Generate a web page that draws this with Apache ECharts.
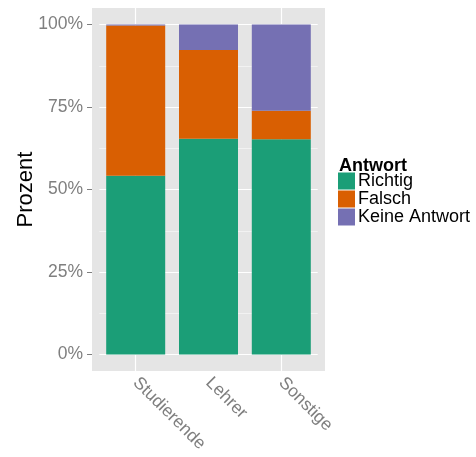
<!DOCTYPE html>
<html>
<head>
<meta charset="utf-8">
<script src="https://cdn.jsdelivr.net/npm/echarts@6/dist/echarts.min.js"></script>
<style>
  html, body { margin: 0; padding: 0; background: #fff; }
  #chart { width: 476px; height: 457px; }
</style>
</head>
<body>
<div id="chart"></div>
<script>
// data (percent per group)
const categories = ['Studierende', 'Lehrer', 'Sonstige'];
const richtig = [54.2, 65.4, 65.2];
const falsch = [45.5, 26.9, 8.7];
const keineAntwort = [0.3, 7.7, 26.1];
const yMax = 100;
const yStep = 25;       // labelled ticks
const yMinorStep = 12.5; // grid lines incl. minor ones

const colors = ['#1B9E77', '#D95F02', '#7570B3'];
const font = 'Liberation Sans';
const grey = '#7F7F7F';

function barSeries(name, vals, color) {
    return {
        name: name,
        type: 'bar',
        stack: 'total',
        data: vals,
        barWidth: 59,
        itemStyle: { color: color },
        z: 2,
        animation: false
    };
}

let myChart = echarts.init(document.getElementById('chart'));
myChart.setOption({
    animation: false,
    textStyle: { fontFamily: font },
    grid: [
        // bars + horizontal grid lines (0..100 range)
        { left: 99.3, top: 24.5, width: 218.4, height: 330 },
        // vertical grid lines through the category centres, full panel height
        { left: 135.7, top: 8, width: 145.6, height: 363 },
        // grey panel
        { left: 92, top: 8, width: 233, height: 363, show: true,
          backgroundColor: '#E5E5E5', borderWidth: 0, z: -1 }
    ],
    title: {
        text: 'Antwort',
        left: 334, top: 152,
        textStyle: { fontFamily: font, fontSize: 18, fontWeight: 'bold', color: '#000' }
    },
    legend: {
        data: ['Richtig', 'Falsch', 'Keine Antwort'],
        orient: 'vertical',
        left: 338, top: 172,
        padding: 0,
        itemGap: 0,
        itemWidth: 17,
        itemHeight: 17,
        icon: 'rect',
        textStyle: { fontFamily: font, fontSize: 18, color: '#000', lineHeight: 17, padding: [0, 0, 0, -2] }
    },
    xAxis: [{
        gridIndex: 0,
        type: 'category',
        data: categories,
        offset: 16.5,
        axisLine: { show: false },
        splitLine: { show: false },
        axisTick: { alignWithLabel: true, length: 5, lineStyle: { color: grey } },
        axisLabel: {
            rotate: -45,
            margin: 9,
            fontFamily: font, fontSize: 17.5, color: grey
        }
    }, {
        gridIndex: 1,
        type: 'category',
        data: categories,
        boundaryGap: false,
        axisLine: { show: false },
        axisTick: { show: false },
        axisLabel: { show: false },
        splitLine: { show: true, lineStyle: { color: '#FFFFFF', width: 1.2 } }
    }, {
        gridIndex: 2,
        type: 'value',
        show: false
    }],
    yAxis: [{
        gridIndex: 0,
        type: 'value',
        min: 0, max: yMax, interval: yMinorStep,
        offset: 7.3,
        name: 'Prozent',
        nameLocation: 'middle',
        nameRotate: 90,
        nameGap: 55,
        nameMoveOverlap: false,
        nameTextStyle: { fontFamily: font, fontSize: 22, color: '#000' },
        axisLine: { show: false },
        axisTick: { show: false },
        splitLine: { show: true, lineStyle: { color: ['#FFFFFF', '#F2F2F2'], width: 1 } },
        axisLabel: {
            formatter: v => (v % yStep === 0 ? v + '%' : ''),
            margin: 9,
            fontFamily: font, fontSize: 17.5, color: grey
        }
    }, {
        // only the tick marks at the labelled values
        gridIndex: 0,
        type: 'value',
        position: 'left',
        min: 0, max: yMax, interval: yStep,
        offset: 7.3,
        axisLine: { show: false },
        axisLabel: { show: false },
        splitLine: { show: false },
        axisTick: { show: true, length: 5, lineStyle: { color: grey } }
    }, {
        gridIndex: 1,
        type: 'value',
        show: false
    }, {
        gridIndex: 2,
        type: 'value',
        show: false
    }],
    series: [
        barSeries('Richtig', richtig, colors[0]),
        barSeries('Falsch', falsch, colors[1]),
        barSeries('Keine Antwort', keineAntwort, colors[2])
    ]
});
</script>
</body>
</html>
